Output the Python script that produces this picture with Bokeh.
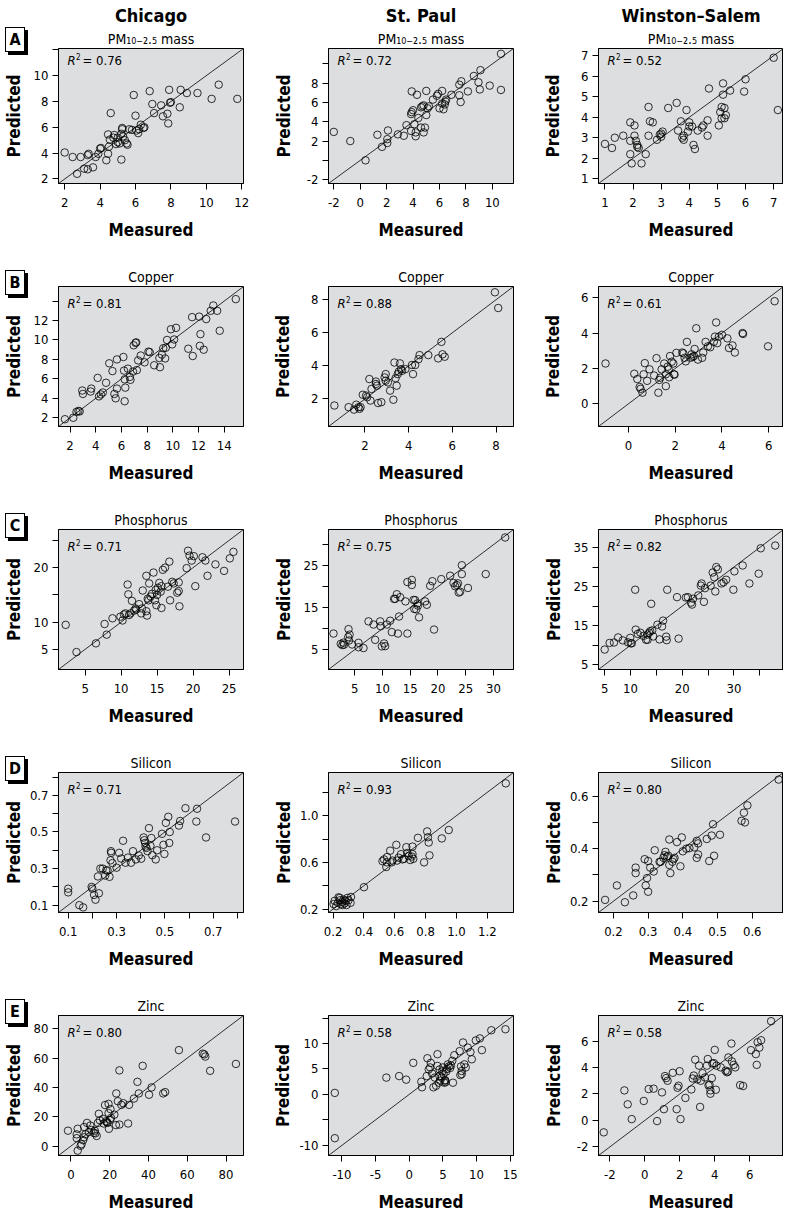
from bokeh.plotting import figure
from bokeh.models import Label, Slope, FixedTicker, Range1d, Title, Div
from bokeh.layouts import column, row
from bokeh.embed import file_html
from bokeh.resources import INLINE

# ---------------- data ----------------
cities = ["Chicago", "St. Paul", "Winston\u2013Salem"]
row_letters = ["A", "B", "C", "D", "E"]
species = ["PM\u2081\u2080\u208b\u2082.\u2085 mass", "Copper", "Phosphorus", "Silicon", "Zinc"]
r2_values = [[0.76, 0.72, 0.52], [0.81, 0.88, 0.61], [0.71, 0.75, 0.82],
             [0.71, 0.93, 0.80], [0.80, 0.58, 0.58]]

chi_pm_meas = [2.0, 2.45, 2.9, 3.3, 3.35, 2.7, 3.1, 3.3, 3.6, 3.75, 3.9, 4.0, 4.05, 4.35, 4.45, 4.5, 4.45, 4.6, 4.55, 4.75, 4.8, 4.9, 5.0, 5.0, 5.1, 5.2, 5.25, 5.25, 5.2, 5.3, 5.4, 5.5, 5.55, 5.65, 5.8, 5.9, 6.0, 6.05, 6.15, 6.2, 6.3, 6.45, 6.5, 6.8, 6.95, 7.05, 7.45, 7.55, 7.8, 7.85, 7.9, 7.95, 8.0, 8.5, 8.55, 8.9, 9.5, 10.3, 10.7, 11.75]
chi_pm_pred = [4.05, 3.7, 3.7, 3.85, 3.95, 2.4, 2.8, 2.75, 2.9, 3.7, 3.95, 4.35, 4.4, 3.45, 3.95, 4.5, 5.45, 7.1, 5.05, 5.2, 5.4, 4.7, 4.85, 5.2, 4.75, 5.5, 5.85, 5.95, 3.5, 5.3, 5.0, 4.75, 4.65, 5.85, 5.8, 8.5, 6.9, 5.75, 5.55, 5.85, 6.2, 5.95, 6.0, 8.8, 7.8, 7.1, 7.7, 6.85, 7.05, 6.3, 8.9, 7.9, 7.95, 7.55, 8.9, 8.65, 8.65, 8.2, 9.3, 8.2]

stp_pm_meas = [-2.0, -0.75, 0.4, 1.3, 1.65, 2.05, 2.05, 2.1, 2.85, 3.3, 3.5, 3.9, 3.85, 3.9, 4.0, 3.85, 4.1, 4.2, 4.2, 4.3, 4.4, 4.6, 4.8, 4.6, 4.7, 4.8, 4.9, 5.0, 5.0, 5.1, 5.2, 5.5, 5.8, 5.9, 6.0, 6.2, 6.2, 6.3, 6.4, 6.5, 6.45, 6.9, 7.5, 7.5, 7.6, 7.65, 8.15, 8.6, 8.95, 9.1, 9.05, 9.8, 10.65, 10.65]
stp_pm_pred = [2.95, 2.0, 0.0, 2.65, 1.4, 2.2, 1.8, 3.1, 2.7, 2.55, 3.65, 7.15, 4.8, 5.0, 5.2, 3.05, 3.75, 2.5, 2.9, 6.8, 4.4, 3.4, 2.9, 5.5, 5.6, 5.7, 3.4, 7.2, 4.7, 5.4, 5.6, 6.3, 6.7, 6.9, 5.4, 5.9, 7.2, 5.3, 5.8, 6.3, 6.1, 6.8, 7.85, 6.75, 6.05, 8.2, 7.15, 8.75, 8.1, 9.35, 7.35, 7.75, 7.3, 11.05]

ws_pm_meas = [1.0, 1.25, 1.35, 1.65, 1.9, 1.9, 1.9, 1.95, 2.05, 2.05, 2.1, 2.15, 2.15, 2.2, 2.3, 2.45, 2.55, 2.55, 2.6, 2.7, 2.85, 2.95, 3.0, 3.0, 3.05, 3.25, 3.55, 3.6, 3.7, 3.75, 3.8, 3.8, 3.9, 3.95, 4.0, 4.0, 4.1, 4.15, 4.2, 4.3, 4.45, 4.5, 4.65, 4.65, 4.7, 5.05, 5.1, 5.15, 5.15, 5.2, 5.2, 5.25, 5.25, 5.3, 5.45, 5.95, 6.0, 7.0, 7.15]
ws_pm_pred = [2.7, 2.5, 3.0, 3.1, 2.85, 3.75, 2.2, 1.75, 3.6, 3.1, 2.85, 2.65, 2.55, 2.5, 1.75, 2.2, 4.5, 3.1, 3.8, 3.75, 2.9, 3.15, 3.2, 3.05, 3.3, 4.45, 4.7, 3.35, 3.8, 3.0, 2.9, 3.1, 4.35, 3.3, 3.55, 3.75, 3.55, 2.65, 2.45, 3.35, 3.5, 3.6, 3.85, 3.1, 5.4, 3.6, 4.25, 4.5, 3.95, 5.1, 5.65, 4.45, 3.95, 4.1, 5.3, 5.25, 5.85, 6.9, 4.35]

chi_cu_meas = [1.6, 2.25, 2.5, 2.65, 2.75, 2.95, 3.0, 3.65, 3.6, 4.15, 4.25, 4.4, 4.55, 4.8, 5.05, 5.3, 5.45, 5.55, 5.65, 5.65, 6.15, 6.2, 6.25, 6.3, 6.25, 6.5, 6.65, 6.7, 6.9, 6.95, 7.1, 7.15, 7.2, 7.3, 7.5, 7.8, 8.1, 8.2, 8.55, 8.95, 9.0, 9.15, 9.25, 9.4, 9.45, 9.55, 9.85, 9.95, 10.1, 10.25, 11.2, 11.5, 11.55, 12.05, 12.15, 12.1, 12.4, 12.6, 12.95, 13.15, 13.45, 13.65, 14.9]
chi_cu_pred = [1.85, 2.0, 2.6, 2.7, 2.65, 4.8, 4.45, 5.0, 4.7, 6.1, 4.2, 4.4, 4.6, 5.6, 7.6, 6.8, 4.45, 4.0, 8.0, 5.0, 8.25, 6.85, 5.95, 5.1, 3.7, 7.05, 6.2, 5.9, 6.75, 9.45, 9.7, 9.75, 6.9, 7.9, 8.4, 7.7, 8.8, 8.75, 7.4, 8.15, 7.2, 8.5, 9.15, 8.1, 9.2, 10.0, 11.1, 9.55, 10.05, 11.25, 9.1, 12.35, 8.35, 12.4, 10.6, 9.4, 9.0, 12.15, 13.0, 13.55, 13.0, 10.95, 14.2]

stp_cu_meas = [0.6, 1.25, 1.5, 1.6, 1.7, 1.75, 1.8, 1.9, 2.05, 2.1, 2.2, 2.25, 2.3, 2.5, 2.5, 2.55, 2.6, 2.75, 2.9, 2.95, 2.95, 3.05, 3.15, 3.3, 3.35, 3.4, 3.45, 3.5, 3.55, 3.6, 3.65, 3.7, 3.85, 4.15, 4.2, 4.3, 4.45, 4.5, 4.9, 5.35, 5.5, 5.55, 5.65, 7.95, 8.1]
stp_cu_pred = [1.6, 1.5, 1.35, 1.65, 1.5, 1.4, 1.5, 2.25, 2.2, 2.1, 3.2, 1.9, 2.6, 2.9, 3.05, 2.8, 1.75, 1.8, 3.3, 3.5, 3.1, 3.0, 2.5, 1.95, 4.2, 3.25, 2.8, 3.5, 3.65, 4.15, 3.8, 3.7, 3.8, 4.05, 3.5, 4.05, 4.4, 4.65, 4.65, 4.45, 5.45, 4.7, 4.55, 8.45, 7.5]

ws_cu_meas = [-0.98, 0.25, 0.38, 0.48, 0.52, 0.6, 0.65, 0.7, 0.8, 0.9, 1.1, 1.2, 1.28, 1.32, 1.36, 1.42, 1.53, 1.6, 1.6, 1.68, 1.72, 1.74, 1.78, 1.85, 1.92, 1.95, 1.97, 2.05, 2.3, 2.35, 2.4, 2.45, 2.5, 2.65, 2.7, 2.75, 2.8, 2.83, 2.9, 2.97, 3.15, 3.2, 3.3, 3.4, 3.5, 3.65, 3.7, 3.75, 3.8, 3.87, 4.0, 4.23, 4.3, 4.45, 4.55, 4.88, 4.9, 5.97, 6.25]
ws_cu_pred = [2.28, 1.7, 1.4, 0.95, 0.85, 0.63, 1.67, 2.3, 1.3, 1.95, 1.6, 2.58, 0.63, 1.35, 1.48, 1.95, 2.28, 1.0, 1.67, 2.1, 1.95, 1.5, 2.7, 2.38, 2.28, 1.67, 1.65, 2.88, 2.9, 2.85, 2.6, 2.4, 3.5, 2.6, 2.8, 2.65, 2.7, 3.1, 4.27, 2.5, 2.6, 2.9, 3.5, 3.25, 3.2, 3.5, 3.8, 4.6, 3.43, 3.8, 3.9, 3.7, 3.15, 3.3, 2.9, 4.0, 3.95, 3.25, 5.8]

chi_p_meas = [2.3, 3.8, 6.5, 7.7, 8.0, 8.8, 9.9, 10.2, 10.4, 10.6, 10.9, 11.0, 11.1, 11.3, 11.5, 11.8, 12.0, 12.1, 12.5, 12.8, 12.9, 13.0, 13.5, 13.5, 13.6, 13.7, 13.8, 13.9, 14.1, 14.3, 14.5, 14.7, 14.8, 14.9, 15.0, 15.1, 15.3, 15.5, 15.6, 15.6, 15.8, 16.1, 16.5, 16.7, 16.8, 17.1, 17.3, 17.8, 18.0, 18.0, 18.1, 19.1, 19.3, 19.5, 19.8, 20.1, 20.3, 21.3, 21.7, 22.0, 23.1, 24.3, 25.1, 25.6]
chi_p_pred = [9.5, 4.5, 6.1, 9.65, 7.7, 10.7, 11.0, 10.3, 11.4, 11.6, 16.9, 15.1, 11.3, 11.6, 13.9, 12.1, 12.5, 12.3, 13.3, 11.6, 12.5, 15.8, 18.5, 12.0, 11.2, 14.3, 14.0, 17.1, 14.7, 15.2, 19.1, 14.0, 15.9, 13.1, 15.0, 16.3, 17.2, 15.6, 16.6, 12.6, 19.6, 20.0, 16.5, 21.1, 14.0, 17.4, 17.1, 15.4, 15.7, 17.3, 12.9, 19.9, 23.1, 22.2, 21.3, 22.1, 16.6, 21.9, 21.3, 18.5, 20.6, 19.4, 21.7, 22.9]

stp_p_meas = [1.2, 2.5, 2.8, 3.0, 3.1, 3.85, 3.9, 4.0, 4.1, 4.55, 5.7, 5.7, 6.6, 7.5, 8.4, 8.7, 9.6, 9.7, 9.9, 10.3, 10.5, 10.8, 11.4, 11.7, 12.1, 12.3, 12.6, 12.8, 13.0, 13.2, 14.15, 14.5, 14.5, 15.3, 15.3, 15.6, 15.75, 15.9, 16.1, 16.3, 16.4, 16.6, 17.7, 18.0, 18.6, 19.0, 19.3, 20.6, 22.2, 22.8, 23.1, 23.4, 23.6, 23.75, 24.0, 24.3, 24.3, 25.4, 28.6, 32.1]
stp_p_pred = [8.85, 6.4, 6.1, 6.7, 6.2, 8.0, 9.9, 7.2, 8.6, 6.25, 6.65, 5.6, 5.4, 11.75, 11.0, 7.35, 11.75, 10.6, 5.8, 6.5, 5.85, 11.0, 11.9, 9.2, 17.1, 17.1, 18.2, 8.85, 12.9, 17.5, 16.5, 8.85, 21.1, 21.6, 20.4, 16.85, 14.7, 16.8, 14.6, 16.0, 15.5, 12.7, 16.5, 15.7, 20.2, 21.3, 9.8, 21.8, 22.6, 20.9, 20.1, 20.4, 20.8, 18.6, 18.8, 23.0, 25.1, 19.7, 23.0, 31.7]

ws_p_meas = [5.0, 5.95, 6.8, 7.6, 8.5, 9.5, 9.95, 10.05, 10.25, 10.9, 11.0, 11.4, 11.9, 12.5, 13.0, 13.3, 13.3, 13.6, 13.8, 14.2, 14.0, 14.4, 15.2, 15.6, 16.1, 16.3, 16.9, 17.0, 17.1, 19.0, 19.3, 20.7, 21.1, 21.7, 21.9, 22.1, 23.1, 23.6, 23.75, 24.2, 24.4, 25.5, 25.9, 26.2, 26.4, 26.6, 26.9, 27.6, 28.0, 28.5, 29.9, 30.1, 31.7, 33.0, 34.8, 35.2, 38.0]
ws_p_pred = [8.9, 10.6, 10.7, 12.0, 11.25, 10.75, 11.9, 10.5, 10.5, 24.2, 14.0, 12.9, 13.2, 12.4, 11.4, 11.4, 12.75, 13.2, 13.6, 13.8, 20.6, 12.25, 15.25, 11.5, 14.8, 16.3, 12.2, 11.3, 24.2, 22.3, 11.7, 22.2, 22.3, 20.9, 20.4, 21.9, 22.75, 25.25, 25.8, 21.1, 24.6, 25.25, 28.6, 27.4, 23.75, 30.0, 29.4, 25.8, 26.1, 26.75, 24.2, 28.9, 30.4, 25.8, 28.3, 34.8, 35.5]

chi_si_meas = [0.1, 0.1, 0.146, 0.162, 0.197, 0.2, 0.207, 0.213, 0.227, 0.223, 0.233, 0.243, 0.253, 0.257, 0.263, 0.271, 0.275, 0.277, 0.278, 0.283, 0.3, 0.311, 0.319, 0.327, 0.337, 0.347, 0.36, 0.368, 0.38, 0.392, 0.402, 0.412, 0.415, 0.418, 0.42, 0.424, 0.428, 0.434, 0.44, 0.444, 0.448, 0.462, 0.468, 0.488, 0.494, 0.498, 0.504, 0.514, 0.518, 0.52, 0.558, 0.563, 0.585, 0.63, 0.633, 0.67, 0.79]
chi_si_pred = [0.19, 0.17, 0.1, 0.088, 0.2, 0.19, 0.156, 0.13, 0.165, 0.257, 0.3, 0.3, 0.262, 0.29, 0.29, 0.255, 0.345, 0.395, 0.386, 0.33, 0.305, 0.386, 0.355, 0.452, 0.332, 0.36, 0.332, 0.395, 0.35, 0.372, 0.354, 0.47, 0.455, 0.44, 0.42, 0.413, 0.395, 0.521, 0.425, 0.467, 0.373, 0.35, 0.4, 0.49, 0.43, 0.38, 0.55, 0.583, 0.44, 0.5, 0.535, 0.56, 0.63, 0.557, 0.627, 0.47, 0.557]

stp_si_meas = [0.203, 0.21, 0.22, 0.23, 0.235, 0.245, 0.25, 0.26, 0.268, 0.274, 0.28, 0.287, 0.293, 0.3, 0.313, 0.26, 0.243, 0.316, 0.4, 0.52, 0.53, 0.545, 0.548, 0.55, 0.57, 0.58, 0.585, 0.61, 0.615, 0.625, 0.64, 0.65, 0.66, 0.675, 0.68, 0.69, 0.7, 0.71, 0.715, 0.72, 0.715, 0.75, 0.79, 0.81, 0.815, 0.82, 0.825, 0.905, 0.95, 1.32]
stp_si_pred = [0.242, 0.27, 0.225, 0.253, 0.3, 0.275, 0.242, 0.262, 0.28, 0.248, 0.27, 0.234, 0.295, 0.275, 0.253, 0.234, 0.295, 0.303, 0.387, 0.61, 0.625, 0.56, 0.6, 0.645, 0.7, 0.6, 0.615, 0.75, 0.615, 0.64, 0.67, 0.625, 0.63, 0.73, 0.68, 0.655, 0.62, 0.65, 0.67, 0.63, 0.735, 0.81, 0.6, 0.865, 0.815, 0.77, 0.66, 0.805, 0.877, 1.277]

ws_si_meas = [0.176, 0.21, 0.233, 0.257, 0.264, 0.264, 0.29, 0.293, 0.297, 0.3, 0.3, 0.306, 0.316, 0.319, 0.333, 0.336, 0.344, 0.347, 0.35, 0.354, 0.358, 0.361, 0.361, 0.364, 0.37, 0.373, 0.376, 0.383, 0.393, 0.397, 0.4, 0.41, 0.419, 0.433, 0.44, 0.444, 0.44, 0.444, 0.469, 0.476, 0.483, 0.487, 0.49, 0.507, 0.569, 0.576, 0.579, 0.586, 0.676]
ws_si_pred = [0.205, 0.26, 0.196, 0.222, 0.328, 0.307, 0.36, 0.26, 0.288, 0.236, 0.353, 0.328, 0.313, 0.394, 0.35, 0.35, 0.365, 0.375, 0.388, 0.37, 0.373, 0.435, 0.338, 0.307, 0.35, 0.36, 0.365, 0.425, 0.333, 0.443, 0.39, 0.4, 0.402, 0.405, 0.43, 0.42, 0.365, 0.378, 0.437, 0.353, 0.45, 0.493, 0.373, 0.453, 0.506, 0.537, 0.5, 0.565, 0.663]

chi_zn_meas = [-1.5, 3.0, 3.0, 3.5, 3.5, 5.0, 5.5, 6.3, 6.8, 6.8, 7.5, 8.3, 9.3, 10.0, 10.6, 11.8, 12.3, 12.6, 13.3, 14.4, 13.9, 14.9, 16.6, 16.9, 17.6, 18.1, 18.6, 18.9, 19.4, 19.6, 20.2, 19.4, 20.4, 20.7, 22.4, 23.2, 23.4, 24.2, 25.0, 25.0, 26.0, 27.0, 29.5, 30.0, 32.5, 34.3, 35.0, 37.0, 40.3, 41.6, 47.6, 48.6, 55.7, 68.0, 69.3, 68.8, 71.8, 85.1]
chi_zn_pred = [10.5, 5.4, 8.0, 11.8, -3.1, 0.2, 1.3, 4.0, 13.0, 6.0, 8.0, 15.8, 9.6, 14.0, 11.0, 9.0, 10.5, 8.7, 6.9, 22.0, 15.8, 17.6, 18.5, 15.4, 28.0, 16.9, 16.3, 15.8, 22.5, 11.8, 18.0, 28.8, 25.2, 19.2, 21.4, 14.3, 35.9, 30.6, 51.6, 14.7, 28.1, 29.2, 15.4, 28.1, 32.4, 43.8, 35.9, 54.7, 35.0, 40.0, 35.9, 36.8, 65.4, 63.0, 61.0, 62.5, 51.3, 56.0]

stp_zn_meas = [-11.06, -11.06, -3.4, -1.5, -0.45, 0.6, 1.8, 1.9, 2.6, 2.7, 2.9, 3.1, 3.2, 3.4, 3.6, 3.8, 4.0, 4.2, 4.2, 4.4, 4.5, 4.5, 4.6, 4.8, 4.9, 5.0, 5.1, 5.3, 5.2, 5.35, 5.5, 5.4, 5.6, 5.75, 5.9, 6.1, 6.2, 6.4, 6.5, 6.7, 7.5, 7.6, 7.7, 7.8, 7.8, 8.0, 8.2, 8.4, 8.7, 9.1, 9.3, 9.9, 10.5, 10.8, 12.2, 14.3]
stp_zn_pred = [0.3, -8.6, 3.3, 3.6, 2.9, 6.2, 2.5, 1.4, 3.6, 7.1, 4.9, 5.3, 6.2, 4.1, 1.4, 3.3, 1.7, 7.9, 5.6, 2.3, 3.6, 4.9, 2.7, 3.3, 4.5, 5.3, 4.0, 2.7, 2.3, 2.8, 4.5, 2.4, 5.0, 5.9, 5.5, 5.2, 5.7, 6.6, 2.3, 7.7, 8.5, 3.8, 5.5, 4.0, 4.6, 10.2, 5.9, 5.3, 9.2, 8.3, 6.9, 10.6, 11.0, 8.7, 12.6, 12.8]

ws_zn_meas = [-2.35, -1.17, -0.98, -0.75, -0.06, 0.22, 0.5, 0.7, 0.98, 1.09, 1.15, 1.22, 1.3, 1.6, 1.82, 1.87, 1.93, 1.99, 2.04, 2.32, 2.66, 2.74, 2.8, 2.88, 3.0, 3.1, 3.16, 3.2, 3.3, 3.44, 3.55, 3.6, 3.64, 3.7, 3.75, 3.75, 3.83, 3.86, 3.95, 4.0, 4.06, 4.1, 4.34, 4.62, 4.7, 4.75, 4.78, 4.95, 4.98, 5.08, 5.17, 5.45, 5.62, 6.07, 6.35, 6.4, 6.45, 6.55, 6.65, 7.22]
ws_zn_pred = [-0.9, 2.27, 1.22, 0.1, 1.47, 2.37, 2.4, -0.05, 2.12, 0.85, 3.35, 3.2, 3.0, 3.6, 0.85, 2.47, 2.62, 3.72, 0.1, 1.7, 2.34, 3.17, 3.39, 4.59, 3.1, 4.14, 1.02, 3.0, 3.57, 3.25, 4.14, 4.64, 2.65, 2.7, 2.27, 2.02, 3.2, 4.3, 4.33, 5.33, 2.32, 4.14, 4.01, 3.76, 3.64, 3.7, 4.76, 5.81, 4.46, 4.2, 4.01, 2.67, 2.6, 5.31, 5.01, 4.2, 5.91, 5.5, 6.06, 7.5]

panel_data = [
    [(chi_pm_meas, chi_pm_pred), (stp_pm_meas, stp_pm_pred), (ws_pm_meas, ws_pm_pred)],
    [(chi_cu_meas, chi_cu_pred), (stp_cu_meas, stp_cu_pred), (ws_cu_meas, ws_cu_pred)],
    [(chi_p_meas, chi_p_pred), (stp_p_meas, stp_p_pred), (ws_p_meas, ws_p_pred)],
    [(chi_si_meas, chi_si_pred), (stp_si_meas, stp_si_pred), (ws_si_meas, ws_si_pred)],
    [(chi_zn_meas, chi_zn_pred), (stp_zn_meas, stp_zn_pred), (ws_zn_meas, ws_zn_pred)],
]

M = "-"
# axis limits (same for x and y), ticks and tick labels ("" = tick without label)
panel_axes = {
    (0, 0): ((1.65, 12.1), [2, 4, 6, 8, 10, 12], ["2", "4", "6", "8", "10", "12"], ["2", "4", "6", "8", "10", ""]),
    (0, 1): ((-2.4, 11.6), [-2, 0, 2, 4, 6, 8, 10], [M + "2", "0", "2", "4", "6", "8", "10"], [M + "2", "", "2", "4", "6", "8", ""]),
    (0, 2): ((0.77, 7.35), [1, 2, 3, 4, 5, 6, 7], ["1", "2", "3", "4", "5", "6", "7"], ["1", "2", "3", "4", "5", "6", "7"]),
    (1, 0): ((1.1, 15.5), [2, 4, 6, 8, 10, 12, 14], ["2", "4", "6", "8", "10", "12", "14"], ["2", "4", "6", "8", "10", "12", ""]),
    (1, 1): ((0.33, 8.8), [2, 4, 6, 8], ["2", "4", "6", "8"], ["2", "4", "6", "8"]),
    (1, 2): ((-1.28, 6.63), [0, 2, 4, 6], ["0", "2", "4", "6"], ["0", "2", "4", "6"]),
    (2, 0): ((1.3, 27.0), [5, 10, 15, 20, 25], ["5", "10", "15", "20", "25"], ["5", "10", "", "20", ""]),
    (2, 1): ((0.3, 33.6), [5, 10, 15, 20, 25, 30], ["5", "10", "15", "20", "25", "30"], ["5", "", "15", "", "25", ""]),
    (2, 2): ((3.8, 39.6), [5, 10, 15, 20, 25, 30, 35], ["5", "10", "", "20", "", "30", ""], ["5", "", "15", "", "25", "", "35"]),
    (3, 0): ((0.06, 0.825), [0.1, 0.2, 0.3, 0.4, 0.5, 0.6, 0.7, 0.8], ["0.1", "", "0.3", "", "0.5", "", "0.7", ""], ["0.1", "", "0.3", "", "0.5", "", "0.7", ""]),
    (3, 1): ((0.17, 1.37), [0.2, 0.4, 0.6, 0.8, 1.0, 1.2], ["0.2", "0.4", "0.6", "0.8", "1.0", "1.2"], ["0.2", "", "0.6", "", "1.0", ""]),
    (3, 2): ((0.157, 0.69), [0.2, 0.3, 0.4, 0.5, 0.6], ["0.2", "0.3", "0.4", "0.5", "0.6"], ["0.2", "", "0.4", "", "0.6"]),
    (4, 0): ((-6.4, 89.0), [0, 20, 40, 60, 80], ["0", "20", "40", "60", "80"], ["0", "20", "40", "60", "80"]),
    (4, 1): ((-12.0, 15.5), [-10, -5, 0, 5, 10, 15], [M + "10", M + "5", "0", "5", "10", "15"], [M + "10", "", "0", "5", "10", ""]),
    (4, 2): ((-2.65, 7.93), [-2, 0, 2, 4, 6], [M + "2", "0", "2", "4", "6"], [M + "2", "0", "2", "4", "6"]),
}

# ---------------- layout / style ----------------
FONT = "DejaVu Sans Condensed, Roboto, sans-serif"
TICK_PX = 13
FRAME_W, FRAME_H = 191, 140
BORDER_L = 52
COL_W = [270, 270, 243]
BG = "#dcdedf"
YLAB_EDGE = 32          # distance frame -> inner edge of "Predicted"


def est_width(s, px):
    w = 0.0
    for ch in s:
        if ch.isdigit():
            w += 0.572
        elif ch == ".":
            w += 0.286
        elif ch == M:
            w += 0.33
        else:
            w += 0.55
    return w * px


def make_panel(ri, ci):
    meas, pred = panel_data[ri][ci]
    lims, ticks, xlabels, ylabels = panel_axes[(ri, ci)]
    top_b = 43 if ri == 0 else 42
    bot_b = 59 if ri == 4 else 61
    width = COL_W[ci]
    height = top_b + FRAME_H + bot_b
    p = figure(width=width, height=height, title=None,
               x_range=Range1d(*lims), y_range=Range1d(*lims),
               output_backend="svg", toolbar_location=None, tools="",
               min_border_left=BORDER_L, min_border_right=width - BORDER_L - FRAME_W,
               min_border_top=top_b, min_border_bottom=bot_b)
    p.background_fill_color = BG
    p.border_fill_color = "white"
    p.outline_line_color = "black"
    p.outline_line_width = 1
    p.grid.visible = False

    for ax in (p.xaxis[0], p.yaxis[0]):
        ax.ticker = FixedTicker(ticks=ticks, minor_ticks=[])
        ax.major_tick_out = 6
        ax.major_tick_in = 0
        ax.minor_tick_out = 0
        ax.minor_tick_in = 0
        ax.axis_line_color = "black"
        ax.major_tick_line_color = "black"
        ax.major_label_text_font = FONT
        ax.major_label_text_font_size = f"{TICK_PX}px"
        ax.major_label_text_color = "black"
        ax.axis_label_text_font = FONT
        ax.axis_label_text_font_style = "bold"
        ax.axis_label_text_font_size = "17px"
        ax.axis_label_text_color = "black"
    p.xaxis[0].major_label_overrides = dict(zip(ticks, xlabels))
    p.yaxis[0].major_label_overrides = dict(zip(ticks, ylabels))
    p.xaxis[0].major_label_standoff = 8
    p.xaxis[0].axis_label = "Measured"
    p.xaxis[0].axis_label_standoff = 10
    p.yaxis[0].major_label_standoff = 4
    p.yaxis[0].major_label_orientation = "horizontal"
    p.yaxis[0].axis_label = "Predicted"
    maxw = max(est_width(s, TICK_PX) for s in ylabels)
    p.yaxis[0].axis_label_standoff = max(2, int(round(YLAB_EDGE - 6 - 4 - maxw)))

    # titles above the frame (first one is nearest to the frame)
    p.add_layout(Title(text=species[ri], align="center", text_font=FONT,
                       text_font_size="14px", text_font_style="normal",
                       text_color="black", standoff=3), "above")
    if ri == 0:
        p.add_layout(Title(text=cities[ci], align="center", text_font=FONT,
                           text_font_size="18px", text_font_style="bold",
                           text_color="black", standoff=4), "above")

    # y = x reference line and the points
    p.add_layout(Slope(gradient=1, y_intercept=0, line_color="black", line_width=0.8))
    p.scatter(meas, pred, marker="circle", size=7.5, fill_color=None,
              line_color="black", line_width=0.8)

    # R^2 annotation inside the frame
    def lab(x, y, text, size, style="normal"):
        p.add_layout(Label(x=x, y=y, x_units="screen", y_units="screen", text=text,
                           text_font=FONT, text_font_size=f"{size}px",
                           text_font_style=style, text_align="left",
                           text_baseline="middle", text_color="black"))
    lab(9, FRAME_H - 17, "R", 13, "italic")
    lab(17.5, FRAME_H - 13, "2", 8)
    lab(24, FRAME_H - 17, f"= {r2_values[ri][ci]:.2f}", 13)
    return p, top_b


rows = []
for ri in range(5):
    panels = [make_panel(ri, ci) for ci in range(3)]
    top_b = panels[0][1]
    box = Div(text=row_letters[ri], width=20, height=25, styles={
        "position": "absolute", "left": "0px", "top": f"{top_b - 21}px",
        "border": "1px solid black", "background-color": "white",
        "box-shadow": "3px 3px 0px 0px black", "box-sizing": "border-box",
        "font-family": FONT, "font-weight": "bold", "font-size": "16px",
        "text-align": "center", "line-height": "23px", "color": "black"})
    rows.append(row(*[pp for pp, _ in panels], box, styles={"position": "relative"}))

layout = column(*rows)

open("out.html", "w").write(file_html(layout, INLINE, title="Measured vs predicted"))
